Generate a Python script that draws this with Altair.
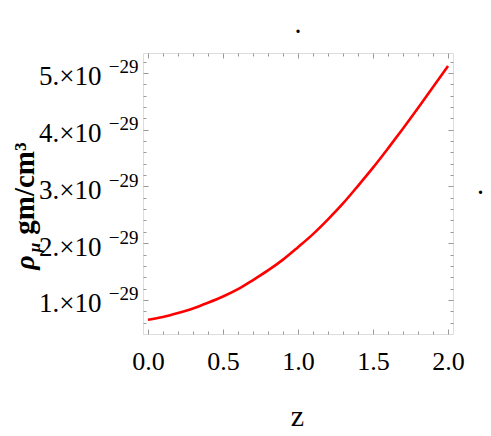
import altair as alt
import pandas as pd

# ---- data ----
z_vals = [0.0, 0.1, 0.2, 0.3, 0.4, 0.5, 0.6, 0.7, 0.8, 0.9, 1.0,
          1.1, 1.2, 1.3, 1.4, 1.5, 1.6, 1.7, 1.8, 1.9, 2.0]
rho_e29 = [0.65, 0.70, 0.77, 0.85, 0.95, 1.06, 1.19, 1.35, 1.52, 1.71, 1.93,
           2.16, 2.42, 2.70, 3.01, 3.33, 3.67, 4.02, 4.38, 4.75, 5.12]

x_major = [0.0, 0.5, 1.0, 1.5, 2.0]
x_minor = [0.1, 0.2, 0.3, 0.4, 0.6, 0.7, 0.8, 0.9, 1.1, 1.2, 1.3, 1.4,
           1.6, 1.7, 1.8, 1.9]
y_major = [1, 2, 3, 4, 5]
y_minor = [0.6, 0.8, 1.2, 1.4, 1.6, 1.8, 2.2, 2.4, 2.6, 2.8, 3.2, 3.4,
           3.6, 3.8, 4.2, 4.4, 4.6, 4.8, 5.2]

df = pd.DataFrame({"z": z_vals, "rho": rho_e29})

FONT = "Liberation Serif"
GRAY = "#999999"

xs = alt.Scale(domain=[-0.033, 2.033], nice=False, zero=False)
ys = alt.Scale(domain=[0.40, 5.35], nice=False, zero=False)

W, H = 310, 281


def tick_axis(orient, values, size, **kw):
    return alt.Axis(orient=orient, values=values, tickSize=size, offset=-size,
                    domain=False, grid=False, tickColor=GRAY, tickWidth=1,
                    **kw)


# Layer 1: the curve, bottom labels + "z", left mantissa labels + rho
line = alt.Chart(df).mark_line(color="#ff0000", strokeWidth=2.6,
                               interpolate="monotone").encode(
    x=alt.X("z:Q", scale=xs, axis=tick_axis(
        "bottom", x_major, 5, format=".1f", labelFont=FONT, labelFontSize=26,
        labelColor="black", labelPadding=14, title="z", titleFont=FONT,
        titleFontSize=30, titleFontWeight="normal", titleColor="black",
        titleAngle=0, titleAlign="center", titleBaseline="alphabetic",
        titleX=154, titleY=96)),
    y=alt.Y("rho:Q", scale=ys, axis=tick_axis(
        "left", y_major, 5, labelExpr="datum.value + '.×10'", labelFont=FONT,
        labelFontSize=27, labelColor="black", labelPadding=42, labelOffset=4,
        title="ρ", titleFont=FONT, titleFontSize=28, titleFontWeight="bold",
        titleFontStyle="italic", titleColor="black", titleAngle=270,
        titleAlign="center", titleBaseline="alphabetic",
        titleX=-115, titleY=209)),
)

# Layer 2: minor ticks bottom/left + subscript mu
minor_bl = alt.Chart(df).mark_line(opacity=0).encode(
    x=alt.X("z:Q", scale=xs, axis=tick_axis("bottom", x_minor, 3,
                                             labels=False, title=None)),
    y=alt.Y("rho:Q", scale=ys, axis=tick_axis(
        "left", y_minor, 3, labels=False, title="μ", titleFont=FONT,
        titleFontSize=17, titleFontWeight="bold", titleFontStyle="italic",
        titleColor="black", titleAngle=270, titleAlign="center",
        titleBaseline="alphabetic", titleX=-107, titleY=194)),
)

# Layer 3: exponent labels on left + unit text
expo = alt.Chart(df).mark_line(opacity=0).encode(
    y=alt.Y("rho:Q", scale=ys, axis=alt.Axis(
        orient="left", values=y_major, ticks=False, domain=False, grid=False,
        labelExpr="'−29'", labelFont=FONT, labelFontSize=19,
        labelColor="black", labelPadding=5, labelOffset=-6,
        title="gm/cm³", titleFont=FONT, titleFontSize=29,
        titleFontWeight="bold", titleColor="black", titleAngle=270,
        titleAlign="center", titleBaseline="alphabetic",
        titleX=-110, titleY=135)),
)

# Layer 4: top / right major frame ticks + stray dot
major_tr = alt.Chart(df).mark_line(opacity=0).encode(
    x=alt.X("z:Q", scale=xs, axis=tick_axis("top", x_major, 5,
                                             labels=False, title=None)),
    y=alt.Y("rho:Q", scale=ys, axis=tick_axis(
        "right", y_major, 5, labels=False, title=".", titleFont=FONT,
        titleFontSize=20, titleFontWeight="bold", titleColor="black",
        titleAngle=0, titleAlign="center", titleBaseline="alphabetic",
        titleX=32, titleY=140)),
)

# Layer 5: top / right minor frame ticks
minor_tr = alt.Chart(df).mark_line(opacity=0).encode(
    x=alt.X("z:Q", scale=xs, axis=tick_axis("top", x_minor, 3,
                                             labels=False, title=None)),
    y=alt.Y("rho:Q", scale=ys, axis=tick_axis("right", y_minor, 3,
                                               labels=False, title=None)),
)

chart = alt.layer(line, minor_bl, expo, major_tr, minor_tr).resolve_axis(
    x="independent", y="independent"
).properties(
    width=W, height=H,
    title=alt.TitleParams(".", font=FONT, fontSize=20, fontWeight="bold",
                          color="black", anchor="middle", offset=16),
    autosize=alt.AutoSizeParams(type="none"),
    padding={"left": 135, "top": 45, "right": 30, "bottom": 100},
).configure_view(stroke=GRAY, strokeWidth=1).configure(background="white")

chart.save("out.html", embed_options={"renderer": "svg", "actions": False})
